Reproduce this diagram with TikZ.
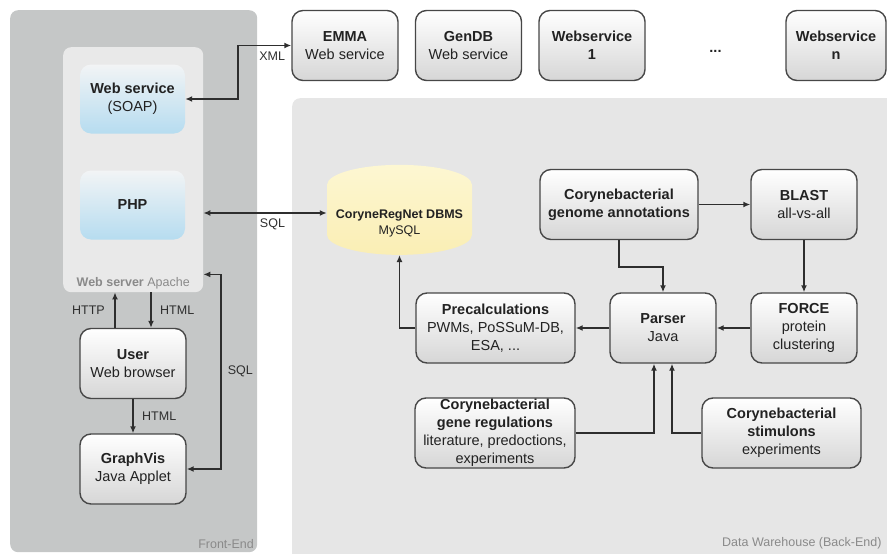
\documentclass[tikz,border=0pt]{standalone}
\usepackage{fontspec}
\setmainfont{Liberation Sans}
\usepackage{tikz}
\usetikzlibrary{positioning,calc,shapes.geometric,arrows.meta}

\definecolor{FrontGray}{HTML}{C5C7C7}
\definecolor{ServerGray}{HTML}{E9E9E9}
\definecolor{BackGray}{HTML}{E6E6E6}
\definecolor{BoxLine}{HTML}{474747}
\definecolor{BoxShade}{HTML}{D6D6D6}
\definecolor{SoapTop}{HTML}{F2F4F5}
\definecolor{SoapBlue}{HTML}{B6DCF0}
\definecolor{DbTop}{HTML}{FDF7D2}
\definecolor{DbMid}{HTML}{F7E283}
\definecolor{DbBottom}{HTML}{FAEEB4}
\definecolor{LineGray}{HTML}{2E2E2E}
\definecolor{TextDark}{HTML}{222222}
\definecolor{LabelGray}{HTML}{8A8A8A}

\begin{document}
\begin{tikzpicture}[x=1pt,y=-1pt,
    every node/.style={font=\fontsize{14.5}{18}\selectfont,text=TextDark},
    box/.style={draw=BoxLine,line width=1.4pt,rounded corners=11pt,top color=white,bottom color=BoxShade,
                align=center,minimum width=106pt,minimum height=70pt,inner sep=1pt},
    soap box/.style={rounded corners=11pt,top color=SoapTop,bottom color=SoapBlue,
                align=center,minimum width=105pt,minimum height=69pt},
    db/.style={cylinder,shape border rotate=90,aspect=0.3,minimum width=145pt,minimum height=90pt,
                top color=DbTop,middle color=DbMid,bottom color=DbBottom,align=center,
                font=\fontsize{12.5}{16}\selectfont},
    panel/.style={rounded corners=8pt,anchor=north west,inner sep=0pt},
    panel text/.style={font=\fontsize{12.5}{15}\selectfont,text=LabelGray},
    small/.style={font=\fontsize{12.5}{15}\selectfont,text=LineGray},
    arr/.style={draw=LineGray,line width=1.7pt,-{Latex[length=7pt,width=6pt]}},
    dbl/.style={draw=LineGray,line width=1.7pt,{Latex[length=7pt,width=6pt]}-{Latex[length=7pt,width=6pt]}}]

\useasboundingbox (0,0) rectangle (887,554);

\node[panel,fill=FrontGray,minimum width=247pt,minimum height=542pt] (FrontEnd) at (10,10) {};
\node[panel,fill=ServerGray,minimum width=140pt,minimum height=245pt] (WebServer) at (63,47) {};
\node[panel,fill=BackGray,minimum width=610pt,minimum height=470pt] (BackEnd) at (292,98) {};

\node[panel text,anchor=south east] (FrontLabel) at (FrontEnd.south east) {Front-End};
\node[panel text,anchor=south] (ServerLabel) at (WebServer.south) {\textbf{Web server} Apache};
\node[panel text,anchor=east] (BackLabel) at (885,543) {Data Warehouse (Back-End)};

\node[soap box] (WebService) at (132.5,99) {\textbf{Web service}\\(SOAP)};
\node[soap box] (PHPBox) at (132.5,205) {\textbf{PHP}};
\node[box] (UserBox) at (133,363.5) {\textbf{User}\\Web browser};
\node[box] (GraphVis) at (133,469) {\textbf{GraphVis}\\Java Applet};

\node[box] (EMMA) at (345,45.5) {\textbf{EMMA}\\Web service};
\node[box] (GenDB) at (468.5,45.5) {\textbf{GenDB}\\Web service};
\node[box] (WSone) at (592,45.5) {\textbf{Webservice}\\\textbf{1}};
\node (Dots) at (715.5,51) {\textbf{...}};
\node[box,minimum width=100pt] (WSn) at (836,45.5) {\textbf{Webservice}\\\textbf{n}};

\node[db] (DBMS) at (399.5,223) {\textbf{CoryneRegNet DBMS}\\MySQL};
\coordinate (DBMSin) at ([yshift=10pt]DBMS.west);
\node[box,minimum width=158pt] (Genome) at (619,204.5) {\textbf{Corynebacterial}\\\textbf{genome annotations}};
\node[box] (Blast) at (804,204.5) {\textbf{BLAST}\\all-vs-all};
\node[box] (Force) at (804,328) {\textbf{FORCE}\\protein\\clustering};
\node[box] (Parser) at (663,328) {\textbf{Parser}\\Java};
\node[box,minimum width=159pt] (Precalc) at (495.5,328) {\textbf{Precalculations}\\PWMs, PoSSuM-DB,\\ESA, ...};
\node[box,minimum width=160pt] (GeneReg) at (495,433) {\textbf{Corynebacterial}\\\textbf{gene regulations}\\literature, predoctions,\\experiments};
\node[box,minimum width=159pt] (Stimulons) at (781.5,433) {\textbf{Corynebacterial}\\\textbf{stimulons}\\experiments};

\draw[dbl] (WebService.east) -- ++(53,0) |- (EMMA.west) node[pos=0.82,below=2pt,small] {XML};
\draw[dbl] (WebServer.east |- DBMSin) -- (DBMSin) node[pos=0.56,below=2pt,small] {SQL};
\draw[dbl] (GraphVis.east) -- ++(34,0) |- ([yshift=18pt]WebServer.south east) node[pos=0.25,right=3pt,small] {SQL};

\draw[arr] ([xshift=-18pt]UserBox.north) -- ([xshift=-18pt]UserBox.north |- WebServer.south) node[midway,left=6pt,small] {HTTP};
\draw[arr] ([xshift=18pt]UserBox.north |- WebServer.south) -- ([xshift=18pt]UserBox.north) node[midway,right=5pt,small] {HTML};
\draw[arr] (UserBox) -- (GraphVis) node[midway,right=5pt,small] {HTML};

\draw[arr] (Genome) -- (Blast);
\draw[arr] (Blast) -- (Force);
\draw[arr] (Force) -- (Parser);
\draw[arr] (Parser) -- (Precalc);
\draw[arr] (Precalc.west) -| (DBMS.south);
\draw[arr] (Genome.south) -- ++(0,27) -| (Parser.north);
\draw[arr] (GeneReg.east) -| ([xshift=-9pt]Parser.south);
\draw[arr] (Stimulons.west) -| ([xshift=9pt]Parser.south);

\end{tikzpicture}
\end{document}
